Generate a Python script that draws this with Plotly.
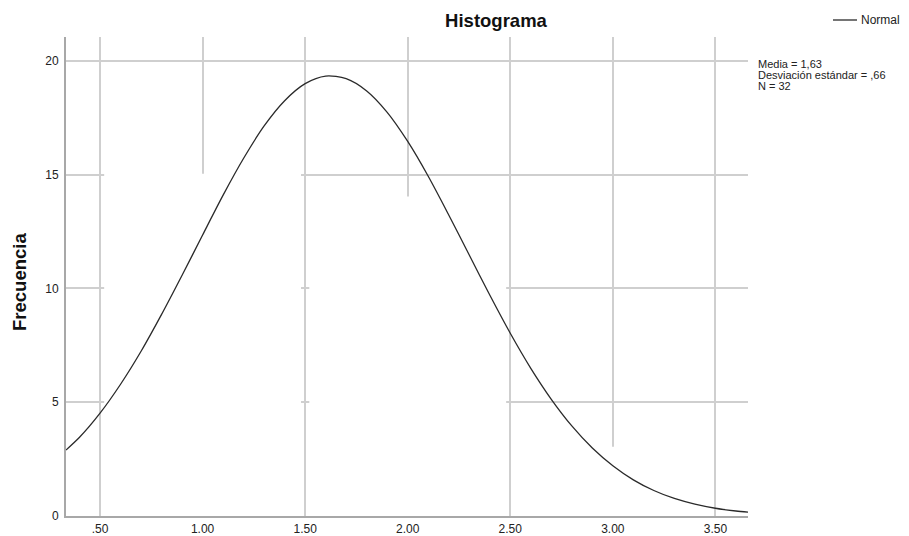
import plotly.graph_objects as go

# Histogram data (bin centers and counts)
bin_centers = [1.0, 2.0, 3.0]
counts = [15, 14, 3]

# Normal curve points
curve_x = [0.334, 0.4, 0.5, 0.6, 0.7, 0.8, 0.9, 1.0, 1.1, 1.2, 1.3, 1.4, 1.5, 1.6,
           1.7, 1.8, 1.9, 2.0, 2.1, 2.2, 2.3, 2.4, 2.5, 2.6, 2.7, 2.8, 2.9, 3.0, 3.1,
           3.2, 3.3, 3.4, 3.5, 3.6, 3.659]
curve_y = [2.90, 3.46, 4.52, 5.79, 7.24, 8.86, 10.58, 12.35, 14.10, 15.72, 17.14, 18.25,
           19.00, 19.33, 19.22, 18.68, 17.74, 16.46, 14.93, 13.23, 11.47, 9.71,
           8.03, 6.49, 5.13, 3.96, 2.99, 2.21, 1.59, 1.12, 0.77, 0.52, 0.34, 0.22, 0.17]

x_ticks = [0.5, 1.0, 1.5, 2.0, 2.5, 3.0, 3.5]
x_tick_labels = [".50", "1.00", "1.50", "2.00", "2.50", "3.00", "3.50"]
y_ticks = [0, 5, 10, 15, 20]

stats_lines = ["Media = 1,63", "Desviación estándar = ,66", "N = 32"]

FONT = "Arial, 'Liberation Sans', sans-serif"
OFF = 8  # page body margin
W, H = 909 - OFF, 536 - OFF
# target plot area in page pixels: x 66..748, y 37..516
L, T = 66 - OFF, 37 - OFF
R, B = W - (748 - OFF), H - (516 - OFF)
PW, PH = W - L - R, H - T - B


def px(xp):  # page x -> paper x
    return (xp - OFF - L) / PW


def py(yp):  # page y -> paper y
    return 1 - (yp - OFF - T) / PH


fig = go.Figure()
fig.add_trace(go.Bar(x=bin_centers, y=counts, width=0.95,
                     marker=dict(color="white", line=dict(width=2, color="white")),
                     showlegend=False, hoverinfo="skip"))
fig.add_trace(go.Scatter(x=curve_x, y=curve_y, mode="lines", name="Normal",
                         line=dict(color="#2a2a2a", width=1.3, shape="spline", smoothing=0.8),
                         showlegend=False))

fig.update_layout(
    width=W, height=H,
    margin=dict(l=L, r=R, t=T, b=B, autoexpand=False),
    paper_bgcolor="white", plot_bgcolor="white",
    font=dict(family=FONT, size=12, color="#222"),
    title=dict(text="<b>Histograma</b>", x=(496 - OFF) / W, xanchor="center",
               y=1 - (21 - OFF) / H, yanchor="middle", font=dict(size=18.5, color="#111")),
    xaxis=dict(range=[0.334, 3.659], tickvals=x_ticks, ticktext=x_tick_labels,
               showgrid=True, gridcolor="#cfcfcf", gridwidth=1.5,
               showline=True, linecolor="#a8a8a8", linewidth=2,
               ticks="", zeroline=False, ticklabelstandoff=1,
               tickfont=dict(size=12, color="#222")),
    yaxis=dict(range=[0, 21.05], tickvals=y_ticks,
               showgrid=True, gridcolor="#cfcfcf", gridwidth=1.5,
               showline=True, linecolor="#a8a8a8", linewidth=2,
               ticks="", zeroline=False, ticklabelstandoff=3,
               tickfont=dict(size=12, color="#222")),
    bargap=0.05,
)

# Y axis title
fig.add_annotation(text="<b>Frecuencia</b>", textangle=-90, xref="paper", yref="paper",
                   x=px(19), y=py(282), xanchor="center", yanchor="middle",
                   showarrow=False, font=dict(size=18.5, color="#111"))

# Legend (line + label)
fig.add_shape(type="line", xref="paper", yref="paper",
              x0=px(833), x1=px(857), y0=py(20), y1=py(20),
              line=dict(color="#2a2a2a", width=1.3))
fig.add_annotation(text="Normal", xref="paper", yref="paper",
                   x=px(859), y=py(20), xanchor="left", yanchor="middle",
                   showarrow=False, font=dict(size=12, color="#222"))

# Statistics text
for i, line in enumerate(stats_lines):
    fig.add_annotation(text=line, xref="paper", yref="paper",
                       x=px(756), y=py(64 + 11 * i),
                       xanchor="left", yanchor="middle", showarrow=False,
                       font=dict(size=11, color="#222"))

fig.write_html("out.html")
